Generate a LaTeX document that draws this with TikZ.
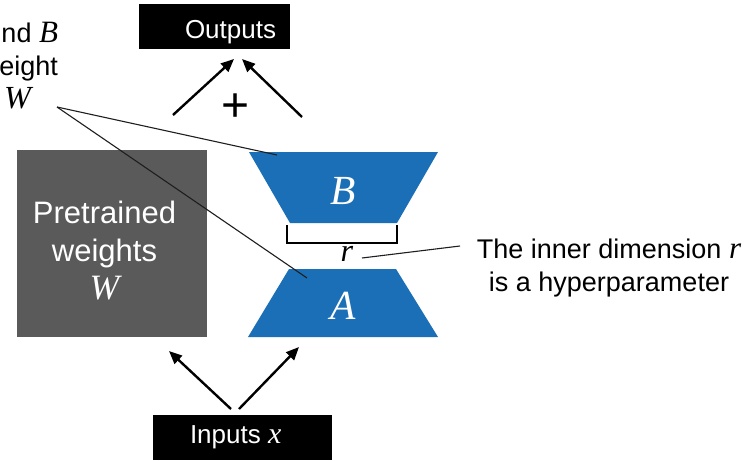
\documentclass[tikz,border=0pt]{standalone}
\usepackage{fontspec}
\setmainfont{Liberation Sans}
\newfontfamily\mathserif{Liberation Serif}[Scale=1.15]
\newcommand{\mv}[1]{{\mathserif\itshape #1}}
\usetikzlibrary{arrows.meta}
\definecolor{loraBlue}{RGB}{27,111,182}
\definecolor{pretrGray}{RGB}{90,90,90}
\definecolor{thinLine}{RGB}{30,30,30}
\tikzset{
  fsz/.style={font=\fontsize{#1}{#1}\selectfont},
  blackbox/.style={fill=black, draw=none},
  arr/.style={line width=2.4pt, -{Triangle[length=13pt,width=11pt]}, black},
  callout/.style={line width=1.1pt, thinLine},
  txt/.style={inner sep=0pt, outer sep=0pt},
}
\begin{document}
\begin{tikzpicture}[x=1pt,y=-1pt]
\useasboundingbox (0,0) rectangle (754,460);
\fill[white] (0,0) rectangle (754,460);

% Outputs box
\fill[blackbox] (139,4) rectangle (290,49);
\node[txt, anchor=base west, text=white, fsz=26] (outputs) at (185,38) {Outputs};

% Inputs box
\fill[blackbox] (153,415) rectangle (332,460);
\node[txt, anchor=base west, text=white, fsz=26] (inputs) at (190,443) {Inputs \mv{x}};

% Pretrained weights box
\fill[pretrGray] (17,150) rectangle (207,337);
\node[txt, anchor=base, text=white, fsz=31] (pre1) at (104.5,223) {Pretrained};
\node[txt, anchor=base, text=white, fsz=31] (pre2) at (104.5,261) {weights};
\node[txt, anchor=base, text=white, fsz=31] (pre3) at (104.5,299) {\mv{W}};

% Trapezoid B
\fill[loraBlue] (249,152) -- (438,152) -- (397,223) -- (290,223) -- cycle;
\node[txt, text=white, fsz=36] (Blab) at (343,191) {\mv{B}};
% Trapezoid A
\fill[loraBlue] (289,269) -- (396,269) -- (438,337) -- (248,337) -- cycle;
\node[txt, text=white, fsz=36] (Alab) at (343,306) {\mv{A}};

% bracket r
\draw[line width=2.4pt, black] (287,225) -- (287,243) -- (397,243) -- (397,225);
\node[txt, fsz=28] (rlab) at (347,254) {\mv{r}};
\coordinate (rline) at (362,258);

% inner dimension text
\node[txt, anchor=base, fsz=27] (inner1) at (609,258) {The inner dimension \mv{r}};
\node[txt, anchor=base, fsz=27] (inner2) at (609,291) {is a hyperparameter};
\coordinate (innerend) at (460,246);
\draw[callout] (rline) -- (innerend);

% top-left cropped text
\node[txt, anchor=base east, fsz=27] (tl1) at (58,43) {nd \mv{B}};
\node[txt, anchor=base east, fsz=27] (tl2) at (58,75) {eight};
\node[txt, anchor=base east, fsz=28] (tl3) at (31,108) {\mv{W}};
\coordinate (wpt) at (57,107);
\coordinate (bpt) at (277,155);
\coordinate (apt) at (307,278);
\draw[callout] (wpt) -- (bpt);
\draw[callout] (wpt) -- (apt);

% plus
\node[txt, fsz=48] (plus) at (236,108) {+};

% arrows to outputs
\coordinate (o1s) at (173,115);
\coordinate (o1e) at (234,59);
\coordinate (o2s) at (302,117);
\coordinate (o2e) at (242,59);
\draw[arr] (o1s) -- (o1e);
\draw[arr] (o2s) -- (o2e);

% arrows from inputs
\coordinate (i1s) at (231,409);
\coordinate (i1e) at (169,351);
\coordinate (i2s) at (239,409);
\coordinate (i2e) at (299,347);
\draw[arr] (i1s) -- (i1e);
\draw[arr] (i2s) -- (i2e);
\end{tikzpicture}
\end{document}
